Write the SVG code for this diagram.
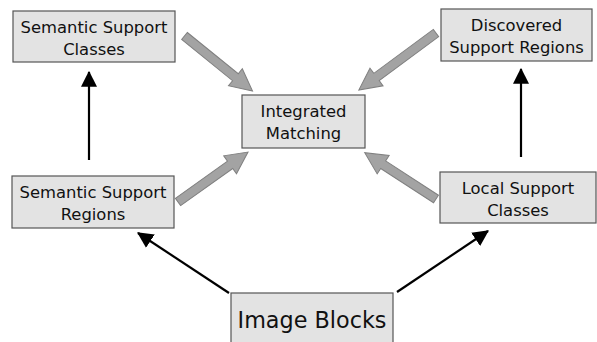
<svg xmlns="http://www.w3.org/2000/svg" width="597" height="342" viewBox="0 0 597 342">
<style>
.box{fill:#e3e3e3;stroke:#555;stroke-width:1.2}
.t{font-family:"DejaVu Sans",Verdana,sans-serif;font-size:16.4px;fill:#111;text-anchor:middle}
.big{font-size:22.3px}
.blk{fill:#a3a3a3;stroke:#808080;stroke-width:1}
.ln{stroke:#000;stroke-width:2.2;fill:none;marker-end:url(#ah)}
</style>
<defs>
<marker id="ah" markerUnits="userSpaceOnUse" markerWidth="16" markerHeight="16" viewBox="0 0 14 14" refX="13" refY="7" orient="auto">
<path d="M0,0 L14,7 L0,14 Z" fill="#000"/>
</marker>
</defs>
<rect width="597" height="342" fill="#fff"/>
<g id="connectors">
<line class="ln" x1="89" y1="160" x2="89" y2="72"/>
<line class="ln" x1="521" y1="157" x2="521" y2="69"/>
<line class="ln" x1="229" y1="293" x2="138" y2="233"/>
<line class="ln" x1="397" y1="292" x2="488" y2="231"/>
<path class="blk" d="M0,-4.5 H65.5 V-11 L87.5,0 L65.5,11 V4.5 H0 Z" transform="translate(184.5,36) rotate(39)"/>
<path class="blk" d="M0,-4.5 H74 V-11 L96,0 L74,11 V4.5 H0 Z" transform="translate(436,33) rotate(143.5)"/>
<path class="blk" d="M0,-4.5 H64 V-11 L86,0 L64,11 V4.5 H0 Z" transform="translate(178,202) rotate(-35.5)"/>
<path class="blk" d="M0,-4.5 H63 V-11 L85,0 L63,11 V4.5 H0 Z" transform="translate(436,199) rotate(-147)"/>
</g>
<g id="semantic-support-classes">
<rect class="box" x="13" y="11" width="162" height="51"/>
<text class="t" x="94" y="33">Semantic Support</text>
<text class="t" x="94" y="55">Classes</text>
</g>
<g id="discovered-support-regions">
<rect class="box" x="441" y="9" width="151" height="52"/>
<text class="t" x="516.5" y="31">Discovered</text>
<text class="t" x="516.5" y="53">Support Regions</text>
</g>
<g id="integrated-matching">
<rect class="box" x="242" y="95" width="123" height="53"/>
<text class="t" x="303.5" y="117">Integrated</text>
<text class="t" x="303.5" y="139">Matching</text>
</g>
<g id="semantic-support-regions">
<rect class="box" x="12" y="176" width="162" height="52"/>
<text class="t" x="93" y="198">Semantic Support</text>
<text class="t" x="93" y="220">Regions</text>
</g>
<g id="local-support-classes">
<rect class="box" x="440" y="172" width="156" height="51"/>
<text class="t" x="518" y="194">Local Support</text>
<text class="t" x="518" y="216">Classes</text>
</g>
<g id="image-blocks">
<rect class="box" x="231" y="293" width="162" height="55"/>
<text class="t big" x="312" y="328">Image Blocks</text>
</g>
</svg>
